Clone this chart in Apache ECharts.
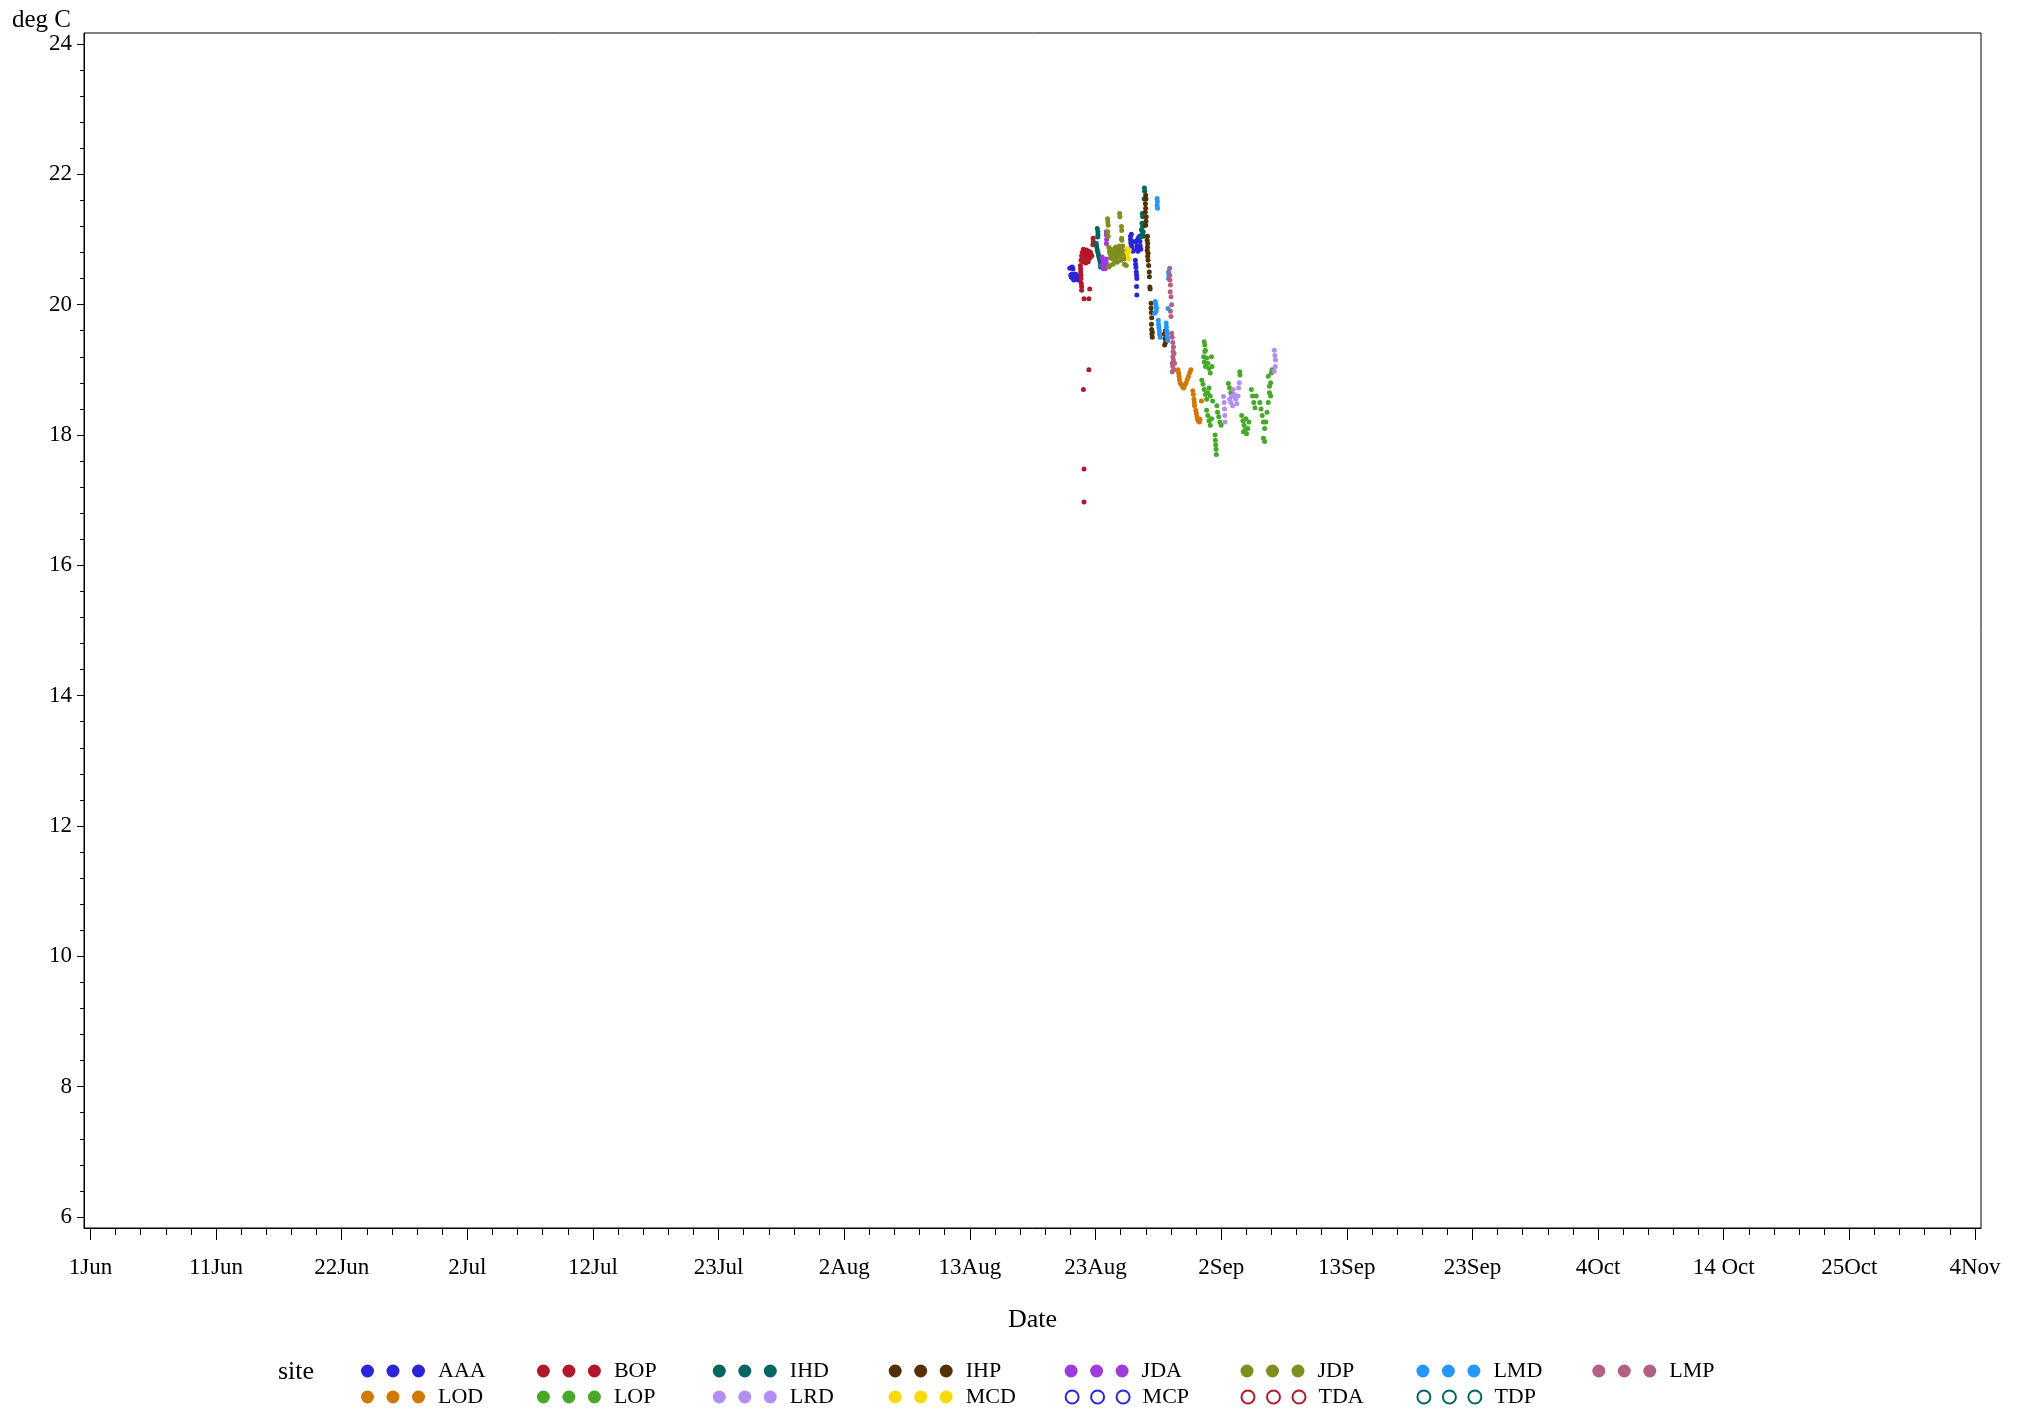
<!DOCTYPE html>
<html>
<head>
<meta charset="utf-8">
<title>deg C by Date and site</title>
<script src="https://cdn.jsdelivr.net/npm/echarts@6/dist/echarts.min.js"></script>
<style>
  html, body { margin: 0; padding: 0; background: #fff; }
  #chart { width: 2024px; height: 1413px; }
</style>
</head>
<body>
<div id="chart"></div>
<script>
// x values are days after 1 Jun, y values are deg C
var tickLabels = ['1Jun', '11Jun', '22Jun', '2Jul', '12Jul', '23Jul', '2Aug', '13Aug',
  '23Aug', '2Sep', '13Sep', '23Sep', '4Oct', '14 Oct', '25Oct', '4Nov'];
var tickStep = 10.4;
var yTickLabels = [6, 8, 10, 12, 14, 16, 18, 20, 22, 24];

var sites = ['AAA', 'BOP', 'IHD', 'IHP', 'JDA', 'JDP', 'LMD', 'LMP',
  'LOD', 'LOP', 'LRD', 'MCD', 'MCP', 'TDA', 'TDP'];

var AAA = [
  [81.07, 20.56], [81.2, 20.57], [81.34, 20.55], [81.27, 20.58],
  [81.15, 20.45], [81.2, 20.42], [81.27, 20.44], [81.34, 20.4], [81.41, 20.43], [81.48, 20.41],
  [81.55, 20.44], [81.62, 20.4], [81.69, 20.42], [81.76, 20.38], [81.83, 20.41], [81.89, 20.38],
  [81.25, 20.47], [81.48, 20.47], [81.62, 20.46], [81.4, 20.38],
  [86.1, 21.05], [86.1, 21.0], [86.12, 20.95], [86.17, 21.08], [86.17, 20.92], [86.2, 20.88],
  [86.25, 20.85], [86.3, 20.82], [86.45, 20.97], [86.58, 20.97], [86.62, 20.9], [86.65, 20.85],
  [86.7, 20.82], [86.72, 21.02], [86.85, 21.05], [86.88, 20.97], [86.9, 20.9], [86.95, 20.85],
  [86.5, 20.68], [86.52, 20.62], [86.55, 20.57], [86.58, 20.5], [86.6, 20.45], [86.62, 20.4],
  [86.6, 20.28], [86.62, 20.15]
];
var BOP = [
  [82.0, 20.68], [82.05, 20.75], [82.1, 20.8], [82.15, 20.72], [82.2, 20.85], [82.25, 20.78],
  [82.3, 20.82], [82.35, 20.7], [82.4, 20.76], [82.45, 20.84], [82.5, 20.8], [82.55, 20.68],
  [82.6, 20.75], [82.65, 20.82], [82.7, 20.78], [82.75, 20.72], [82.8, 20.8], [82.9, 20.75],
  [82.15, 20.66], [82.4, 20.64], [82.6, 20.66],
  [83.0, 21.02], [83.02, 20.97], [82.98, 20.92],
  [81.95, 20.6], [81.97, 20.55], [81.97, 20.5], [82.0, 20.45], [82.0, 20.4], [82.02, 20.33],
  [82.05, 20.28], [82.05, 20.22],
  [82.72, 20.24], [82.25, 20.09], [82.65, 20.09],
  [82.65, 19.0], [82.2, 18.7], [82.25, 17.48], [82.25, 16.97]
];
var IHD = [
  [83.35, 21.17], [83.4, 21.12], [83.4, 21.07], [83.38, 21.04], [83.27, 20.94], [83.3, 20.89],
  [83.35, 20.84], [83.4, 20.8], [83.45, 20.76], [83.5, 20.72], [83.55, 20.68], [83.6, 20.63],
  [83.65, 20.6], [83.62, 20.58],
  [87.25, 21.79], [87.27, 21.74], [87.22, 21.62], [87.07, 21.4], [87.1, 21.35], [87.05, 21.25],
  [87.1, 21.2], [87.0, 21.15], [87.15, 21.12], [87.05, 21.08], [87.2, 21.05], [87.3, 21.22],
  [86.95, 21.04]
];
var IHP = [
  [87.35, 21.68], [87.38, 21.62], [87.33, 21.55], [87.35, 21.48], [87.32, 21.42], [87.4, 21.35],
  [87.38, 21.28], [87.35, 21.22],
  [87.5, 21.05], [87.48, 20.99], [87.52, 20.94], [87.5, 20.88], [87.48, 20.83], [87.55, 20.79],
  [87.52, 20.74], [87.55, 20.68], [87.6, 20.6], [87.65, 20.5], [87.66, 20.43],
  [87.7, 20.27], [87.72, 20.24],
  [87.8, 20.02], [87.8, 19.95], [87.82, 19.88], [87.85, 19.8], [87.83, 19.7], [87.85, 19.62],
  [87.87, 19.55], [87.9, 19.5], [87.9, 19.58],
  [88.9, 19.55], [88.95, 19.48], [89.0, 19.42], [88.92, 19.38], [88.98, 19.6]
];
var JDA = [
  [84.1, 21.12], [84.1, 21.07], [84.12, 21.0], [84.1, 20.94], [83.75, 20.73], [83.8, 20.7],
  [83.85, 20.66], [83.9, 20.62], [83.95, 20.58], [84.0, 20.55], [84.05, 20.6], [84.08, 20.65],
  [84.1, 20.7], [83.7, 20.6], [83.85, 20.55]
];
var JDP = [
  [84.2, 21.32], [84.22, 21.27], [84.25, 21.22], [84.22, 21.12], [84.25, 21.05],
  [85.2, 21.4], [85.22, 21.35],
  [85.35, 21.2], [85.37, 21.14], [85.36, 21.02], [85.38, 20.99],
  [84.3, 20.88], [84.35, 20.82], [84.4, 20.78], [84.45, 20.72], [84.5, 20.85], [84.55, 20.78],
  [84.6, 20.7], [84.65, 20.62], [84.7, 20.82], [84.75, 20.75], [84.8, 20.68], [84.85, 20.88],
  [84.9, 20.8], [84.95, 20.72], [85.0, 20.65], [85.05, 20.85], [85.1, 20.78], [85.15, 20.9],
  [85.2, 20.82], [85.25, 20.75], [85.3, 20.68], [85.35, 20.86], [85.4, 20.8], [85.45, 20.9],
  [85.5, 20.78], [85.55, 20.7], [85.6, 20.62], [85.65, 20.82], [85.7, 20.75], [85.75, 20.6],
  [84.4, 20.6], [84.3, 20.58]
];
var LMD = [
  [88.3, 21.63], [88.32, 21.58], [88.3, 21.52], [88.33, 21.48],
  [89.25, 20.5], [89.28, 20.45], [89.25, 20.4], [89.2, 19.94],
  [88.15, 20.05], [88.2, 20.0], [88.25, 19.95], [88.22, 19.9], [88.1, 19.87],
  [88.4, 19.76], [88.42, 19.7], [88.45, 19.65], [88.48, 19.6], [88.5, 19.55], [88.55, 19.5],
  [89.05, 19.72], [89.07, 19.66], [89.1, 19.6], [89.12, 19.55], [89.15, 19.5], [89.18, 19.45]
];
var LMP = [
  [89.34, 20.56], [89.34, 20.45], [89.36, 20.38], [89.4, 20.3], [89.38, 20.2], [89.45, 20.12],
  [89.5, 20.0], [89.4, 19.9], [89.45, 19.82],
  [89.5, 19.56], [89.55, 19.5], [89.6, 19.42], [89.65, 19.35], [89.62, 19.28], [89.7, 19.25],
  [89.6, 19.2], [89.65, 19.15], [89.55, 19.1], [89.6, 19.05], [89.7, 19.0], [89.55, 18.97],
  [89.75, 19.1]
];
var LOD = [
  [90.03, 19.0], [90.08, 18.95], [90.12, 18.9], [90.15, 18.85], [90.2, 18.8],
  [90.3, 18.78], [90.4, 18.74], [90.5, 18.72], [90.6, 18.76], [90.7, 18.8], [90.8, 18.85],
  [90.9, 18.9], [91.0, 18.96], [91.1, 19.0],
  [91.25, 18.68], [91.3, 18.62], [91.35, 18.55], [91.38, 18.5], [91.4, 18.45],
  [91.5, 18.38], [91.55, 18.33], [91.6, 18.28], [91.65, 18.24], [91.7, 18.22], [91.8, 18.2],
  [91.85, 18.24], [91.97, 18.52]
];
var LOP = [
  [92.2, 19.43], [92.25, 19.38], [92.3, 19.3], [92.25, 19.28],
  [92.15, 19.2], [92.2, 19.12], [92.3, 19.05], [92.4, 19.18], [92.5, 19.1], [92.6, 19.02],
  [92.7, 18.95], [92.8, 19.2], [92.85, 19.05],
  [92.0, 18.84], [92.1, 18.78], [92.2, 18.7], [92.3, 18.62], [92.4, 18.55], [92.5, 18.65],
  [92.6, 18.72], [92.7, 18.6], [92.9, 18.52],
  [92.4, 18.38], [92.5, 18.3], [92.6, 18.22], [92.7, 18.15], [92.8, 18.25],
  [93.1, 18.0], [93.12, 17.92], [93.15, 17.85], [93.18, 17.78], [93.2, 17.7],
  [93.25, 18.45], [93.3, 18.35], [93.4, 18.28], [93.5, 18.2], [93.6, 18.15],
  [94.2, 18.79], [94.3, 18.72], [94.4, 18.65], [94.5, 18.6],
  [95.14, 18.97], [95.16, 18.92],
  [95.3, 18.3], [95.4, 18.22], [95.5, 18.15], [95.6, 18.08], [95.7, 18.02], [95.8, 18.1],
  [95.9, 18.2], [95.45, 18.05], [95.65, 18.25],
  [96.1, 18.7], [96.2, 18.6], [96.3, 18.5], [96.4, 18.42], [96.5, 18.6],
  [96.8, 18.5], [96.9, 18.4], [97.0, 18.3], [97.1, 18.2], [97.2, 18.1], [97.3, 18.2],
  [97.4, 18.35], [97.5, 18.5], [97.6, 18.65], [97.7, 18.8], [97.75, 18.95], [97.8, 19.0],
  [97.1, 17.95], [97.2, 17.9],
  [97.5, 18.9], [97.6, 18.75], [97.7, 18.6]
];
var LRD = [
  [93.8, 18.59], [93.85, 18.5], [93.88, 18.4], [93.9, 18.3], [93.92, 18.2],
  [94.3, 18.55], [94.4, 18.5], [94.5, 18.6], [94.6, 18.7], [94.7, 18.62], [94.8, 18.55],
  [94.9, 18.48], [95.0, 18.6], [95.05, 18.72], [95.1, 18.8], [94.55, 18.45],
  [98.0, 19.3], [98.05, 19.22], [98.1, 19.15], [98.08, 19.05], [98.0, 18.98]
];
var MCD = [
  [85.85, 20.86], [85.88, 20.8], [85.9, 20.75], [85.93, 20.7], [86.0, 20.84], [85.8, 20.8]
];
var MCP = [];
var TDA = [];
var TDP = [];

var siteData = {
  AAA: AAA, BOP: BOP, IHD: IHD, IHP: IHP, JDA: JDA, JDP: JDP, LMD: LMD, LMP: LMP,
  LOD: LOD, LOP: LOP, LRD: LRD, MCD: MCD, MCP: MCP, TDA: TDA, TDP: TDP
};
var siteColors = {
  AAA: '#2A25D9', BOP: '#B2182B', IHD: '#01665E', IHP: '#543005', JDA: '#9D3CDB',
  JDP: '#7F8E1F', LMD: '#2597FA', LMP: '#B26084', LOD: '#D17800', LOP: '#47A82A',
  LRD: '#B38EF3', MCD: '#F9DA04', MCP: '#2A25D9', TDA: '#B2182B', TDP: '#01665E'
};
var hollowSites = ['MCP', 'TDA', 'TDP'];

var FONT = '"Liberation Serif", "DejaVu Serif", serif';

// tick positions
var xMajor = tickLabels.map(function (d, i) { return +(i * tickStep).toFixed(2); });
var xMinor = [];
for (var i = 0; i <= 75; i++) xMinor.push(+(i * tickStep / 5).toFixed(3));
var yMinor = [];
for (var j = 0; j <= 45; j++) yMinor.push(+(6 + j * 0.4).toFixed(2));

var X_MIN = -0.53, X_MAX = 156.5;
var Y_MIN = 5.831, Y_MAX = 24.169;

// legend marker: three dots side by side
var threeDots = 'path://M0 6.5a6.5 6.5 0 1 0 13 0a6.5 6.5 0 1 0 -13 0Z' +
  'M25.5 6.5a6.5 6.5 0 1 0 13 0a6.5 6.5 0 1 0 -13 0Z' +
  'M51 6.5a6.5 6.5 0 1 0 13 0a6.5 6.5 0 1 0 -13 0Z';

var series = sites.map(function (s) {
  var hollow = hollowSites.indexOf(s) >= 0;
  return {
    name: s,
    type: 'scatter',
    xAxisIndex: 0,
    yAxisIndex: 0,
    symbol: 'circle',
    symbolSize: 5,
    data: siteData[s],
    itemStyle: hollow
      ? { color: '#fff', borderColor: siteColors[s], borderWidth: 1.3, opacity: 1 }
      : { color: siteColors[s], borderWidth: 0, opacity: 1 }
  };
});

// one legend per entry so the columns line up like the original
var legends = sites.map(function (s, k) {
  var col = k % 8, row = Math.floor(k / 8);
  return {
    data: [s],
    left: 361 + col * 175.9,
    top: 1360 + row * 26,
    padding: 0,
    icon: threeDots,
    itemWidth: 64,
    itemHeight: 13,
    selectedMode: false,
    textStyle: {
      fontFamily: FONT,
      fontSize: 22,
      color: '#000',
      padding: [0, 0, 0, 8]
    }
  };
});

var myChart = echarts.init(document.getElementById('chart'), null, { renderer: 'canvas' });
var option = {
  animation: false,
  backgroundColor: '#fff',
  title: {
    text: 'site',
    left: 278,
    top: 1359,
    padding: 0,
    textStyle: { fontFamily: FONT, fontSize: 26, fontWeight: 'normal', color: '#000' }
  },
  legend: legends,
  grid: [
    {
      left: 84, right: 43, top: 33, bottom: 185,
      show: true, borderColor: '#000', borderWidth: 1, backgroundColor: 'transparent'
    },
    { left: 84, right: 43, top: 33, bottom: 185 }
  ],
  xAxis: [
    {
      type: 'value',
      gridIndex: 0,
      min: X_MIN,
      max: X_MAX,
      name: 'Date',
      nameLocation: 'middle',
      nameGap: 79,
      nameTextStyle: { fontFamily: FONT, fontSize: 26, color: '#000' },
      axisLine: { show: true, onZero: false, lineStyle: { color: '#000', width: 1 } },
      axisTick: { show: true, customValues: xMajor, length: 12, lineStyle: { color: '#000' } },
      axisLabel: {
        customValues: xMajor,
        margin: 28,
        fontFamily: FONT,
        fontSize: 23,
        color: '#000',
        formatter: function (v) {
          return tickLabels[Math.round(v / tickStep)];
        }
      },
      splitLine: { show: false }
    },
    {
      type: 'value',
      gridIndex: 1,
      min: X_MIN,
      max: X_MAX,
      axisLine: { show: false, onZero: false },
      axisTick: { show: true, customValues: xMinor, length: 7, lineStyle: { color: '#000' } },
      axisLabel: { show: false },
      splitLine: { show: false }
    }
  ],
  yAxis: [
    {
      type: 'value',
      gridIndex: 0,
      min: Y_MIN,
      max: Y_MAX,
      name: 'deg C',
      nameLocation: 'end',
      nameGap: 0,
      nameTextStyle: {
        fontFamily: FONT, fontSize: 25, color: '#000',
        align: 'right', padding: [0, 13, 0, 0]
      },
      axisLine: { show: true, onZero: false, lineStyle: { color: '#000', width: 1 } },
      axisTick: { show: true, customValues: yTickLabels, length: 7, lineStyle: { color: '#000' } },
      axisLabel: {
        customValues: yTickLabels,
        margin: 12,
        fontFamily: FONT,
        fontSize: 23,
        color: '#000'
      },
      splitLine: { show: false }
    },
    {
      type: 'value',
      gridIndex: 1,
      min: Y_MIN,
      max: Y_MAX,
      axisLine: { show: false, onZero: false },
      axisTick: { show: true, customValues: yMinor, length: 4, lineStyle: { color: '#000' } },
      axisLabel: { show: false },
      splitLine: { show: false }
    }
  ],
  series: series
};
myChart.setOption(option);
</script>
</body>
</html>
